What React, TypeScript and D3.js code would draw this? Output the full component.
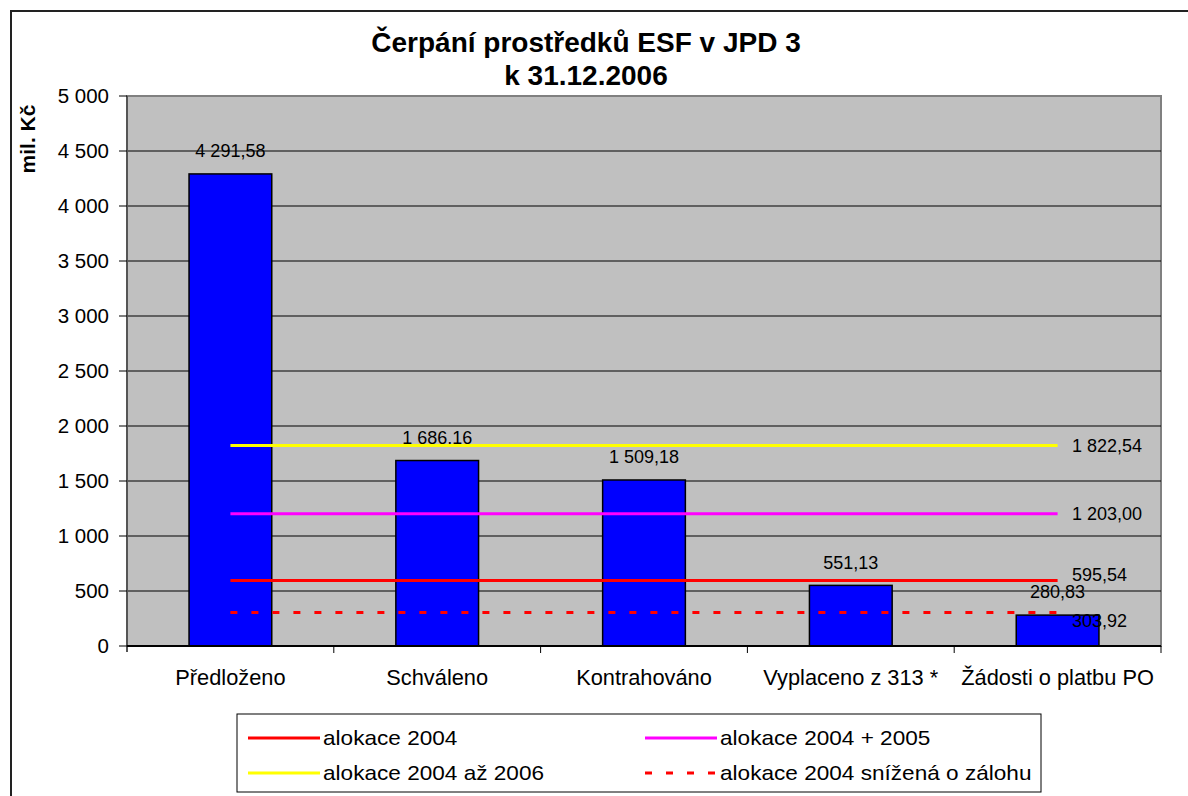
import React from 'react';
import * as d3 from 'd3';

const categories = ['Předloženo', 'Schváleno', 'Kontrahováno', 'Vyplaceno z 313 *', 'Žádosti o platbu PO'];
const barValues = [4291.58, 1686.16, 1509.18, 551.13, 280.83];

const lineNames = ['alokace 2004', 'alokace 2004 + 2005', 'alokace 2004 až 2006', 'alokace 2004 snížená o zálohu'];
const lineValues = [595.54, 1203.0, 1822.54, 303.92];
const lineColors = ['#FF0000', '#FF00FF', '#FFFF00', '#FF0000'];
const lineDashed = [false, false, false, true];

const yTicks = [0, 500, 1000, 1500, 2000, 2500, 3000, 3500, 4000, 4500, 5000];

const W = 1188;
const H = 796;
const plot = { left: 127, right: 1161, top: 96, bottom: 646 };
const FONT = 'Liberation Sans, Arial, sans-serif';

const locale = d3.formatLocale({ decimal: ',', thousands: ' ', grouping: [3], currency: ['', ''] });
const fmt2 = locale.format(',.2f');
const fmt0 = locale.format(',.0f');

// Excel nudged some of the right-hand labels to avoid collisions
const lineLabelShift: Record<number, number> = { 0: -6, 3: 8 };

export default function App() {
  const x = d3.scaleBand<string>().domain(categories).range([plot.left, plot.right]).padding(0);
  const y = d3.scaleLinear().domain([0, 5000]).range([plot.bottom, plot.top]);
  const bw = x.bandwidth() * 0.4;
  const xFirst = x(categories[0])! + x.bandwidth() / 2;
  const xLast = x(categories[categories.length - 1])! + x.bandwidth() / 2;

  // legend order: row 1 -> red, magenta ; row 2 -> yellow, dotted red
  const legendCols = [248, 645];
  const legendRows = [738, 773];

  return (
    <svg width={W} height={H} style={{ position: 'absolute', left: 0, top: 0, background: '#fff' }} fontFamily={FONT}>
      {/* chart area border */}
      <rect x={11} y={11} width={W + 20} height={H + 20} fill="#fff" stroke="#222" strokeWidth={2} />

      {/* title */}
      <text x={586} y={52} textAnchor="middle" fontSize={28} fontWeight="bold">Čerpání prostředků ESF v JPD 3</text>
      <text x={586} y={85} textAnchor="middle" fontSize={28} fontWeight="bold">k 31.12.2006</text>

      {/* y axis title */}
      <text transform="translate(35,139) rotate(-90)" textAnchor="middle" fontSize={21} fontWeight="bold">mil. Kč</text>

      {/* plot area */}
      <rect x={plot.left} y={plot.top} width={plot.right - plot.left} height={plot.bottom - plot.top} fill="#C0C0C0" stroke="#808080" strokeWidth={2} />

      {/* grid */}
      {yTicks.filter(t => t > 0 && t < 5000).map(t => (
        <line key={t} x1={plot.left} x2={plot.right} y1={y(t)} y2={y(t)} stroke="#000" strokeWidth={1} />
      ))}

      {/* y axis */}
      <line x1={plot.left} x2={plot.left} y1={plot.top} y2={plot.bottom + 6} stroke="#555" strokeWidth={2} />
      {yTicks.map(t => (
        <g key={t}>
          <line x1={plot.left - 8} x2={plot.left} y1={y(t)} y2={y(t)} stroke="#000" strokeWidth={1} />
          <text x={109} y={y(t)} dy="0.35em" textAnchor="end" fontSize={20.5}>{fmt0(t)}</text>
        </g>
      ))}

      {/* bars */}
      {barValues.map((v, i) => {
        const cx = x(categories[i])! + x.bandwidth() / 2;
        return (
          <g key={i}>
            <rect x={cx - bw / 2} y={y(v)} width={bw} height={y(0) - y(v)} fill="#0000FF" stroke="#000" strokeWidth={1.5} />
            <text x={cx} y={y(v) - 23} dy="0.35em" textAnchor="middle" fontSize={18}>{fmt2(v)}</text>
          </g>
        );
      })}

      {/* x axis */}
      <line x1={plot.left} x2={plot.right} y1={plot.bottom} y2={plot.bottom} stroke="#000" strokeWidth={2} />
      {categories.map((c, i) => (
        <line key={'t' + i} x1={x(c)! + x.bandwidth()} x2={x(c)! + x.bandwidth()} y1={plot.bottom} y2={plot.bottom + 7} stroke="#000" strokeWidth={1} />
      ))}
      {categories.map(c => (
        <text key={c} x={x(c)! + x.bandwidth() / 2} y={685} textAnchor="middle" fontSize={21.8}>{c}</text>
      ))}

      {/* allocation lines */}
      {lineValues.map((v, i) => (
        <g key={'l' + i}>
          <line x1={xFirst} x2={xLast} y1={y(v)} y2={y(v)} stroke={lineColors[i]} strokeWidth={3}
            strokeDasharray={lineDashed[i] ? '7,14' : undefined} />
          <text x={1072} y={y(v) + (lineLabelShift[i] || 0)} dy="0.35em" fontSize={18}>{fmt2(v)}</text>
        </g>
      ))}

      {/* legend */}
      <rect x={237} y={714} width={804} height={78} fill="#fff" stroke="#000" strokeWidth={1} />
      {[0, 1, 2, 3].map(k => {
        const lx = legendCols[k % 2];
        const ly = legendRows[Math.floor(k / 2)];
        return (
          <g key={'lg' + k}>
            <line x1={lx} x2={lx + 72} y1={ly} y2={ly} stroke={lineColors[k]} strokeWidth={3}
              strokeDasharray={lineDashed[k] ? '7,14' : undefined} />
            <text transform={`translate(${lx + 75},${ly}) scale(1.13,1)`} dy="0.35em" fontSize={20}>{lineNames[k]}</text>
          </g>
        );
      })}
    </svg>
  );
}
